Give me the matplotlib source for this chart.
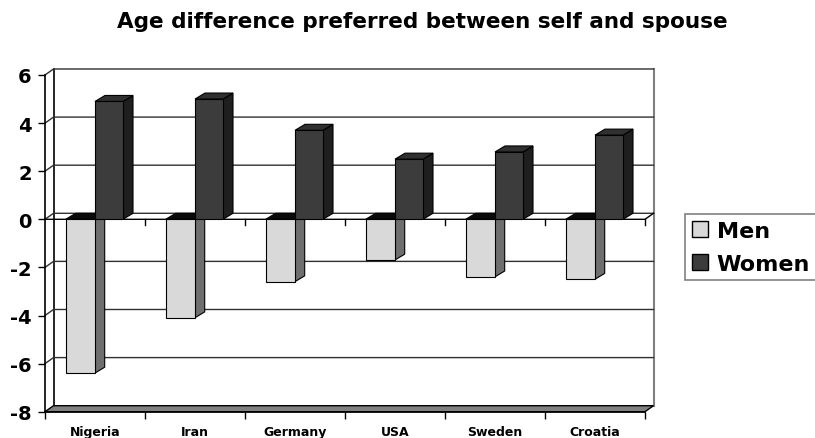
import matplotlib.pyplot as plt
from matplotlib.patches import Polygon, Patch

# data
countries = ['Nigeria', 'Iran', 'Germany', 'USA', 'Sweden', 'Croatia']
men = [-6.4, -4.1, -2.6, -1.7, -2.4, -2.5]
women = [4.9, 5.0, 3.7, 2.5, 2.8, 3.5]
y_ticks = [-8, -6, -4, -2, 0, 2, 4, 6]

# fake 3D depth offsets (data units)
wall_dx, wall_dy = 0.085, 0.25
bar_dx, bar_dy = 0.10, 0.25


def draw_bar(ax, x0, width, v, front, side, top, z):
    x1 = x0 + width
    lo, hi = min(v, 0), max(v, 0)
    kw = dict(edgecolor='black', linewidth=0.8, clip_on=False, zorder=z)
    ax.add_patch(Polygon([(x1, lo), (x1 + bar_dx, lo + bar_dy),
                          (x1 + bar_dx, hi + bar_dy), (x1, hi)], facecolor=side, **kw))
    ax.add_patch(Polygon([(x0, hi), (x1, hi), (x1 + bar_dx, hi + bar_dy),
                          (x0 + bar_dx, hi + bar_dy)], facecolor=top, **kw))
    ax.add_patch(Polygon([(x0, lo), (x1, lo), (x1, hi), (x0, hi)], facecolor=front, **kw))


fig = plt.figure(figsize=(8.15, 4.39), dpi=100)
ax = fig.add_axes([45 / 815, 26.3 / 439, 600 / 815, 336.7 / 439])
n = len(countries)
ax.set_xlim(0, n)
ax.set_ylim(-8, 6)

# back wall
ax.add_patch(Polygon([(wall_dx, -8 + wall_dy), (n + wall_dx, -8 + wall_dy),
                      (n + wall_dx, 6 + wall_dy), (wall_dx, 6 + wall_dy)],
                     facecolor='white', edgecolor='none', clip_on=False, zorder=0))
ax.plot([wall_dx, wall_dx], [-8 + wall_dy, 6 + wall_dy], color='black', lw=1.2, clip_on=False, zorder=1)
ax.plot([n + wall_dx, n + wall_dx], [-8 + wall_dy, 6 + wall_dy], color='#808080', lw=1.5, clip_on=False, zorder=1)

# gridlines on side + back wall
for t in y_ticks[1:]:
    ax.plot([0, wall_dx, n + wall_dx], [t, t + wall_dy, t + wall_dy],
            color='#303030', lw=1, clip_on=False, zorder=1)

# floor slab
ax.add_patch(Polygon([(0, -8), (n, -8), (n + wall_dx, -8 + wall_dy), (wall_dx, -8 + wall_dy)],
                     facecolor='#808080', edgecolor='black', linewidth=1, clip_on=False, zorder=1))

# zero line with category ticks
ax.plot([0, n, n + wall_dx], [0, 0, wall_dy], color='black', lw=1, clip_on=False, zorder=2)
for i in range(1, n + 1):
    ax.plot([i, i], [0, -0.25], color='black', lw=1, clip_on=False, zorder=2)

for i in range(n):
    draw_bar(ax, i + 0.207, 0.29, men[i], '#d9d9d9', '#6e6e6e', '#0a0a0a', 3)
    draw_bar(ax, i + 0.50, 0.28, women[i], '#3c3c3c', '#1f1f1f', '#303030', 4)

# axes styling
for s in ['top', 'right']:
    ax.spines[s].set_visible(False)
ax.spines['left'].set_linewidth(1.2)
ax.spines['bottom'].set_linewidth(1.2)
ax.set_yticks(y_ticks)
ax.set_yticklabels([str(t) for t in y_ticks], fontsize=14, fontweight='bold')
ax.tick_params(axis='y', length=5, width=1, pad=4.5)
ax.set_xticks(range(n + 1))
ax.set_xticklabels([])
ax.set_xticks([i + 0.5 for i in range(n)], minor=True)
ax.set_xticklabels(countries, minor=True, fontsize=9, fontweight='bold')
ax.tick_params(axis='x', which='major', length=5, width=1)
ax.tick_params(axis='x', which='minor', length=0, pad=9.5)
ax.patch.set_visible(False)

fig.text(422.5 / 815, 1 - 22 / 439, 'Age difference preferred between self and spouse',
         ha='center', va='center', fontsize=15.5, fontweight='bold')

handles = [Patch(facecolor='#d9d9d9', edgecolor='black', label='Men'),
           Patch(facecolor='#3c3c3c', edgecolor='black', label='Women')]
leg = ax.legend(handles=handles, loc='upper left', bbox_to_anchor=(685 / 815, 1 - 215 / 439),
                bbox_transform=fig.transFigure, borderaxespad=0, fancybox=False,
                edgecolor='#808080', framealpha=1, prop={'size': 16, 'weight': 'bold'},
                handlelength=0.75, handleheight=0.7, handletextpad=0.38,
                borderpad=0.3, labelspacing=0.58)
leg.get_frame().set_linewidth(1.2)

fig.savefig('out.png', dpi=100)
